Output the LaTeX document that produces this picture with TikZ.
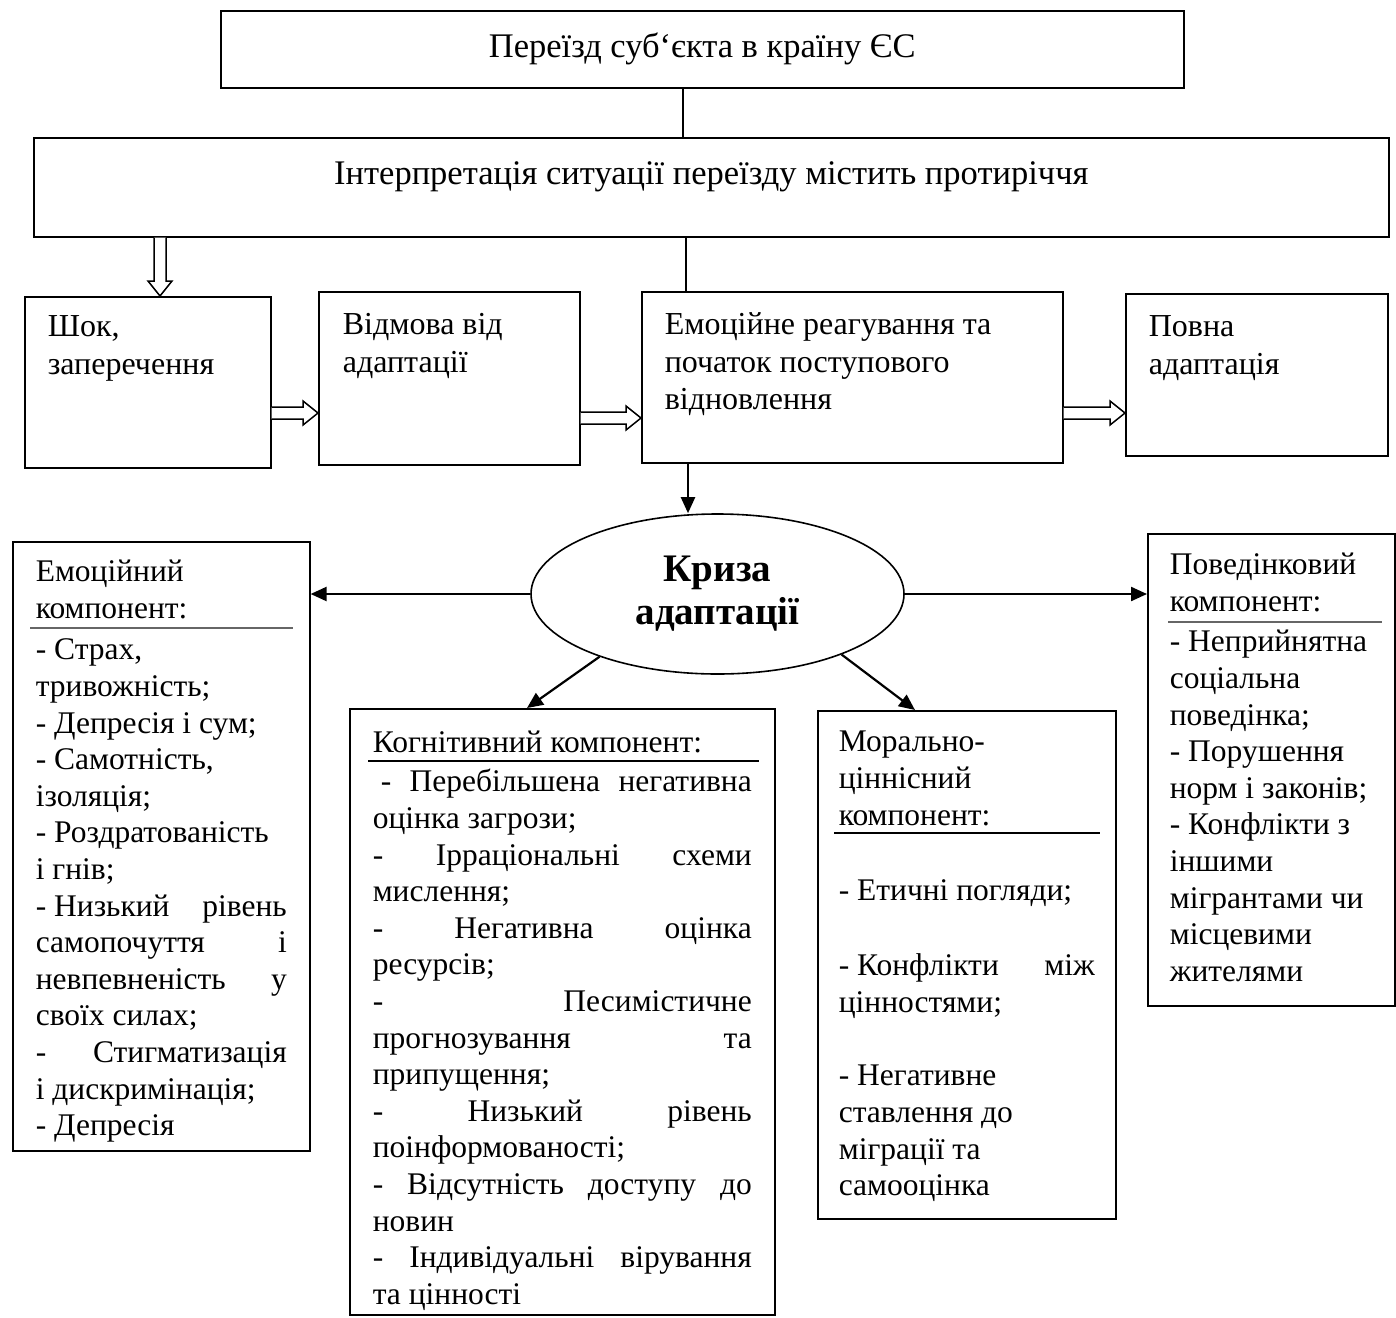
\documentclass[tikz,border=0pt]{standalone}
\usepackage{fontspec}
\setmainfont{Liberation Serif}
\usetikzlibrary{positioning}
\usetikzlibrary{arrows.meta}
\usetikzlibrary{shapes.geometric}
\usetikzlibrary{calc}

\hbadness=10000
\vbadness=10000

\newcommand{\toptext}{\fontsize{34.5}{40}\selectfont}
\newcommand{\rowtext}{\fontsize{32}{37.5}\selectfont}
\newcommand{\comptext}{\fontsize{31.5}{36.6}\selectfont}
\newcommand{\crisistext}{\fontsize{39}{43}\selectfont\bfseries}

% hollow block arrow between two points
\newcommand{\hollowarrow}[2]{%
  \coordinate (ha) at (#1);
  \coordinate (hz) at (#2);
  \coordinate (hb) at ($(hz)!15pt!(ha)$);
  \draw [blockarr] ($(ha)!6pt!90:(hz)$) -- ($(hb)!6pt!90:(hz)$) -- ($(hb)!12pt!90:(hz)$)
    -- (hz) -- ($(hb)!12pt!-90:(hz)$) -- ($(hb)!6pt!-90:(hz)$) -- ($(ha)!6pt!-90:(hz)$);
}

\tikzset{
  box/.style={draw, line width=1.6pt, inner sep=0pt, anchor=north west},
  rowbox/.style={box, inner xsep=23pt, font=\rowtext},
  compbox/.style={box, inner xsep=23pt, font=\comptext},
  thinline/.style={line width=1.2pt},
  sepline/.style={line width=1.6pt},
  blockarr/.style={line width=1.5pt, fill=white, line join=miter},
  arr/.style={line width=2.2pt, -{Triangle[length=16pt, width=14pt]}},
}

\begin{document}
\begin{tikzpicture}[x=1pt, y=-1pt]
  \useasboundingbox (0,0) rectangle (1396,1317);

  % top of the scheme
  \node (pereizd) [box, minimum width=963pt, minimum height=77pt, font=\toptext] at (220,10) {Переїзд суб‘єкта в країну ЄС};
  \node (interp) [box, minimum width=1355pt, minimum height=99pt, font=\toptext, text height=23.8pt, text depth=28.8pt] at (33,137) {Інтерпретація ситуації переїзду містить протиріччя};

  % stages
  \node (shok) [rowbox] at (24,296) {\parbox[c][171pt][t]{200pt}{\raggedright\rule{0pt}{40pt}Шок,\\заперечення}};
  \node (vidm) [rowbox, inner xsep=24pt] at (318,291) {\parbox[c][173pt][t]{213pt}{\raggedright\rule{0pt}{43pt}Відмова від\\адаптації}};
  \node (emo) [rowbox] at (641,291) {\parbox[c][171pt][t]{375pt}{\raggedright\rule{0pt}{43pt}Емоційне реагування та\\початок поступового\\відновлення}};
  \node (povna) [rowbox] at (1125,293) {\parbox[c][162pt][t]{216pt}{\raggedright\rule{0pt}{43pt}Повна\\адаптація}};

  % crisis
  \node (ell) [ellipse, draw, line width=1.6pt, minimum width=373pt, minimum height=160pt, inner sep=0pt, align=center, font=\crisistext] at (717.5,594) {Криза\\адаптації};

  % components
  \node (emoc) [compbox] at (12,541) {\parbox[c][609pt][t]{251pt}{\rule{0pt}{40pt}Емоційний\\компонент:\par\vspace{4.8pt}
    - Страх,\\тривожність;\par
    - Депресія і сум;\par
    - Самотність,\\ізоляція;\par
    - Роздратованість\\і гнів;\par
    -\hspace{0.25em}Низький рівень\linebreak самопочуття і\linebreak невпевненість у\linebreak своїх силах;\par
    - Стигматизація\linebreak і дискримінація;\par
    - Депресія}};
  \node (cog) [compbox] at (349,708) {\parbox[c][606pt][t]{379pt}{\rule{0pt}{44pt}Когнітивний компонент:\par\vspace{2.4pt}
    \hspace*{8pt}- Перебільшена негативна\linebreak оцінка загрози;\par
    - Ірраціональні схеми\linebreak мислення;\par
    - Негативна оцінка\linebreak ресурсів;\par
    - Песимістичне\linebreak прогнозування та\linebreak припущення;\par
    - Низький рівень\linebreak поінформованості;\par
    - Відсутність доступу до\linebreak новин\par
    - Індивідуальні вірування\linebreak та цінності}};
  \node (moral) [compbox, inner xsep=21pt] at (817,710) {\parbox[c][508pt][t]{256pt}{\rule{0pt}{41pt}Морально-\\ціннісний\\компонент:\par\vspace{39.2pt}
    - Етичні погляди;\par\vspace{38.4pt}
    -\hspace{0.25em}Конфлікти між\linebreak цінностями;\par\vspace{36.8pt}
    - Негативне\\ставлення до\\міграції та\\самооцінка}};
  \node (beh) [compbox, inner xsep=22pt] at (1147,533) {\parbox[c][472pt][t]{203pt}{\raggedright\rule{0pt}{41pt}Поведінковий\\компонент:\par\vspace{3.8pt}
    - Неприйнятна\\соціальна\\поведінка;\par
    - Порушення\\норм і законів;\par
    - Конфлікти з\\іншими\\мігрантами чи\\місцевими\\жителями}};

  % header rules
  \draw [sepline, black!60] ($(emoc.north west)+(18,87)$) -- ($(emoc.north east)+(-18,87)$);
  \draw [sepline] ($(cog.north west)+(19,53)$) -- ($(cog.north east)+(-17,53)$);
  \draw [sepline] ($(moral.north west)+(17,123)$) -- ($(moral.north east)+(-17,123)$);
  \draw [sepline, black!60] ($(beh.north west)+(21,89)$) -- ($(beh.north east)+(-14,89)$);

  % connectors
  \draw [thinline] (683,0 |- pereizd.south) -- (683,0 |- interp.north);
  \draw [thinline] (686,0 |- interp.south) -- (686,0 |- emo.north);
  \hollowarrow{160,0 |- interp.south}{160,0 |- shok.north}
  \hollowarrow{shok.east |- 0,413}{vidm.west |- 0,413}
  \hollowarrow{vidm.east |- 0,418}{emo.west |- 0,418}
  \hollowarrow{emo.east |- 0,413}{povna.west |- 0,413}
  \draw [arr] (688,0 |- emo.south) -- (688,0 |- ell.north);
  \draw [arr] (ell.west) -- (emoc.east |- ell.west);
  \draw [arr] (ell.east) -- (beh.west |- ell.east);
  \draw [arr] (ell.208) -- (527,0 |- cog.north);
  \draw [arr] (ell.334) -- (915,0 |- moral.north);
\end{tikzpicture}
\end{document}
